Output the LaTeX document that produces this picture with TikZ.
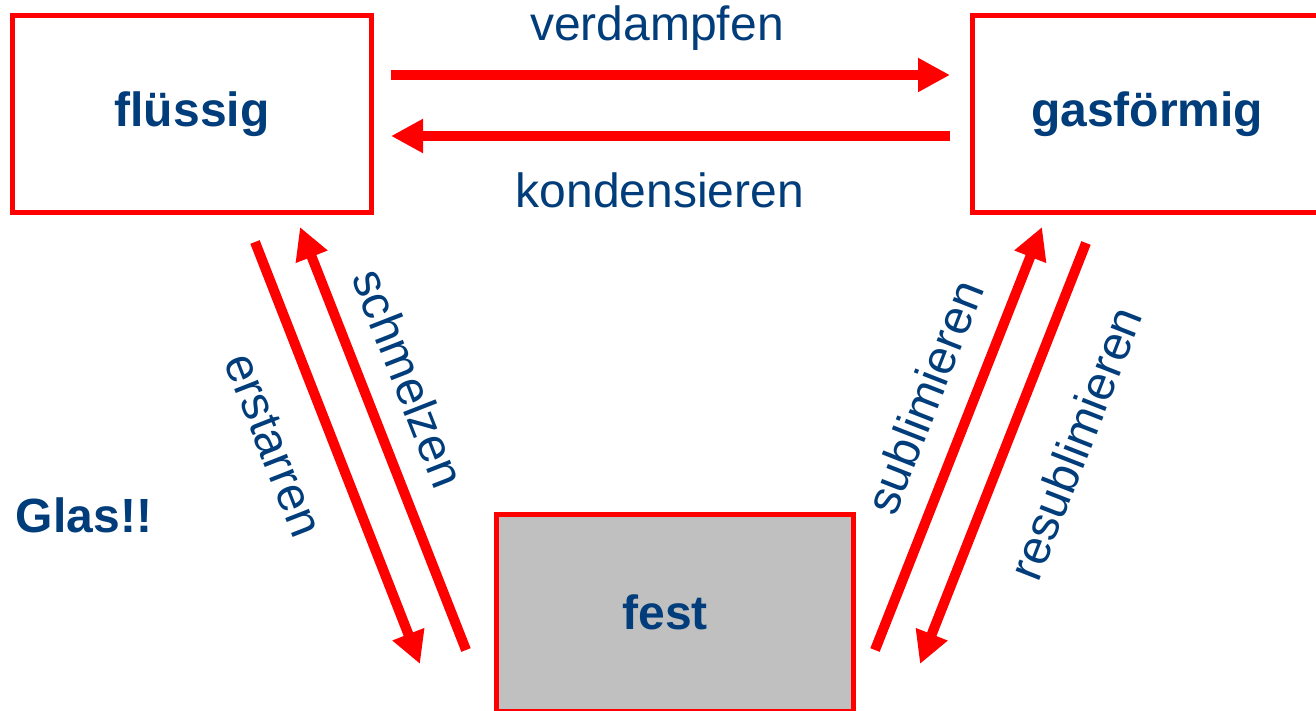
\documentclass[tikz,border=0pt]{standalone}
\usepackage{fontspec}
\setmainfont{Liberation Sans}
\usetikzlibrary{arrows.meta}
\definecolor{txtblue}{RGB}{0,61,122}
\definecolor{boxred}{RGB}{255,0,0}
\definecolor{festgray}{RGB}{192,192,192}
\begin{document}
\begin{tikzpicture}[x=1pt,y=-1pt,
  box/.style={draw=boxred, line width=5pt, minimum width=359pt, minimum height=197pt, inner sep=0pt,
    font=\fontsize{48}{56}\selectfont\bfseries, text=txtblue},
  lbl/.style={font=\fontsize{48}{56}\selectfont, text=txtblue, inner sep=0pt},
  blbl/.style={font=\fontsize{48}{56}\selectfont\bfseries, text=txtblue, inner sep=0pt},
  arr/.style={draw=boxred, line width=10pt, -{Triangle[length=32pt,width=32pt]}}]
\clip (0,0) rectangle (1316,711);
\fill[white] (0,0) rectangle (1316,711);
% boxes
\node[box] (fl) at (192,114) {flüssig};
\node[box, minimum width=350pt] (gas) at (1147,114) {gasförmig};
\node[box, fill=festgray, minimum width=356.5pt] (fest) at (674.75,613) {};
\node[blbl] (festtxt) at (665,612) {fest};
\node[blbl] (glas) at (84,515) {Glas!!};
% arrow end points
\coordinate (vdA) at (391,75);   \coordinate (vdB) at (950,75);
\coordinate (knA) at (950,136);  \coordinate (knB) at (391,136);
\coordinate (erA) at (255,242);  \coordinate (erB) at (420,664);
\coordinate (smA) at (466,650);  \coordinate (smB) at (300,227);
\coordinate (sbA) at (875,650);  \coordinate (sbB) at (1042,227);
\coordinate (rsA) at (1086,243); \coordinate (rsB) at (920,664);
% arrows
\draw[arr] (vdA) -- (vdB);
\draw[arr] (knA) -- (knB);
\draw[arr] (erA) -- (erB);
\draw[arr] (smA) -- (smB);
\draw[arr] (sbA) -- (sbB);
\draw[arr] (rsA) -- (rsB);
% labels
\node[lbl] (lvd) at (657,28) {verdampfen};
\node[lbl] (lkn) at (660,190) {kondensieren};
\node[lbl, rotate=-68.6] (ler) at (273,445) {erstarren};
\node[lbl, rotate=-68.6] (lsm) at (409,378) {schmelzen};
\node[lbl, rotate=68.6] (lsb) at (924,397) {sublimieren};
\node[lbl, rotate=68.6] (lrs) at (1075,443) {resublimieren};
\end{tikzpicture}
\end{document}
